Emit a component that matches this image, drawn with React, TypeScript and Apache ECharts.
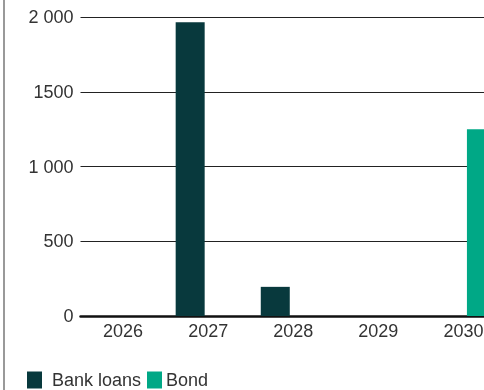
import React, { useEffect, useRef } from "react";
import * as echarts from "echarts";

const categories = ["2026", "2027", "2028", "2029", "2030"];
const bankLoans = [0, 1965, 195, 0, 0];
const bond = [0, 0, 0, 0, 1250];
const yTicks = [0, 500, 1000, 1500, 2000];
const yTickLabels = ["0", "500", "1 000", "1500", "2 000"];
const seriesNames = ["Bank loans", "Bond"];

export default function App() {
  const ref = useRef<HTMLDivElement>(null);
  useEffect(() => {
    if (!ref.current) return;
    const chart = echarts.init(ref.current, null, { renderer: "svg" });
    const font = "'Liberation Sans', Arial, sans-serif";
    const legendBase = {
      top: 371,
      padding: 0,
      itemWidth: 15,
      itemHeight: 17,
      icon: "rect",
    };
    chart.setOption({
      animation: false,
      textStyle: { fontFamily: font },
      grid: { left: 80.5, right: 0, top: 17, bottom: 74, containLabel: false },
      legend: [
        {
          ...legendBase,
          left: 27,
          textStyle: { fontSize: 18, color: "#333", fontFamily: font, padding: [0, 0, 0, 5] },
          data: [seriesNames[0]],
        },
        {
          ...legendBase,
          left: 147,
          textStyle: { fontSize: 18, color: "#333", fontFamily: font, padding: [0, 0, 0, -1] },
          data: [seriesNames[1]],
        },
      ],
      xAxis: {
        type: "category",
        data: categories,
        axisTick: { show: false },
        axisLine: { show: true, lineStyle: { color: "#111", width: 2.5 } },
        axisLabel: { fontSize: 18, color: "#333", margin: 6, fontFamily: font },
      },
      yAxis: {
        type: "value",
        min: 0,
        max: 2000,
        interval: 500,
        axisLine: { show: false },
        axisTick: { show: false },
        splitLine: { lineStyle: { color: "#222", width: 1 } },
        axisLabel: {
          fontSize: 18,
          color: "#333",
          margin: 7,
          fontFamily: font,
          formatter: (v: number) => {
            const i = yTicks.indexOf(v);
            return i >= 0 ? yTickLabels[i] : String(v);
          },
        },
      },
      series: [
        {
          name: seriesNames[0],
          type: "bar",
          data: bankLoans,
          barWidth: 29,
          barGap: "24%",
          itemStyle: { color: "#08393D" },
        },
        {
          name: seriesNames[1],
          type: "bar",
          data: bond,
          barWidth: 29,
          barGap: "24%",
          itemStyle: { color: "#00A886" },
        },
      ],
      graphic: [
        {
          type: "line",
          shape: { x1: 4, y1: 0, x2: 4, y2: 390 },
          style: { stroke: "#999", lineWidth: 2 },
        },
      ],
    });
    return () => chart.dispose();
  }, []);
  return (
    <div
      style={{
        position: "fixed",
        left: 0,
        top: 0,
        width: 484,
        height: 390,
        overflow: "hidden",
      }}
    >
      <div ref={ref} style={{ width: 506, height: 390 }} />
    </div>
  );
}
